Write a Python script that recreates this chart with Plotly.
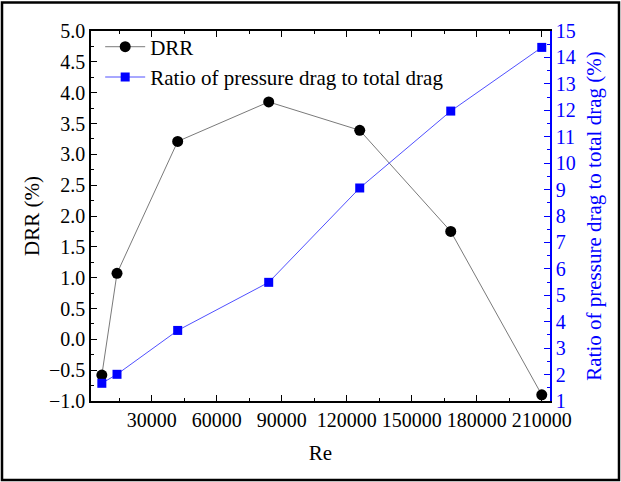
import plotly.graph_objects as go

re_vals = [7000, 14000, 42000, 84000, 126000, 168000, 210000]
drr = [-0.58, 1.07, 3.21, 3.85, 3.39, 1.75, -0.90]
ratio = [1.67, 2.01, 3.67, 5.49, 9.06, 11.97, 14.38]
x_ticks = [30000, 60000, 90000, 120000, 150000, 180000, 210000]

FONT = "Liberation Serif"
BLUE = "#0000ff"

fig = go.Figure()
fig.add_trace(go.Scatter(
    x=re_vals, y=drr, name="DRR", mode="lines+markers",
    line=dict(color="#7a7a7a", width=1),
    marker=dict(symbol="circle", size=11, color="black"),
))
fig.add_trace(go.Scatter(
    x=re_vals, y=ratio, name="Ratio of pressure drag to total drag", mode="lines+markers",
    yaxis="y2",
    line=dict(color="#5050ff", width=1),
    marker=dict(symbol="square", size=9, color=BLUE),
))

fig.update_layout(
    width=621, height=482,
    margin=dict(l=91, r=71, t=31, b=81),
    paper_bgcolor="white", plot_bgcolor="white",
    font=dict(family=FONT, size=20, color="black"),
    showlegend=True,
    legend=dict(x=0.02, y=1.012, xanchor="left", yanchor="top",
                bgcolor="rgba(0,0,0,0)", font=dict(family=FONT, size=21),
                tracegroupgap=0, itemwidth=40),
    xaxis=dict(
        range=[2000, 213800], tickvals=x_ticks, ticktext=[str(v) for v in x_ticks],
        ticks="inside", ticklen=6, tickwidth=1.2, tickcolor="black",
        showline=True, linecolor="black", linewidth=1.5, mirror="ticks",
        showgrid=False, zeroline=False,
        minor=dict(tickvals=[15000, 45000, 75000, 105000, 135000, 165000, 195000],
                   ticks="inside", ticklen=3, tickcolor="black", tickwidth=1.2),
        title=dict(text="Re", font=dict(family=FONT, size=21), standoff=16),
        tickfont=dict(family=FONT, size=20),
    ),
    yaxis=dict(
        range=[-1, 5], dtick=0.5, tick0=0, tickformat=".1f",
        ticks="inside", ticklen=6, tickwidth=1.2, tickcolor="black",
        showline=True, linecolor="black", linewidth=1.5,
        showgrid=False, zeroline=False,
        minor=dict(dtick=0.25, ticks="inside", ticklen=3, tickcolor="black", tickwidth=1.2),
        title=dict(text="DRR (%)", font=dict(family=FONT, size=21), standoff=4),
        tickfont=dict(family=FONT, size=20),
    ),
    yaxis2=dict(
        range=[1, 15], dtick=1, tick0=1, overlaying="y", side="right",
        ticks="inside", ticklen=6, tickwidth=1.2, tickcolor=BLUE,
        showline=True, linecolor=BLUE, linewidth=1.5,
        showgrid=False, zeroline=False,
        minor=dict(dtick=0.5, ticks="inside", ticklen=3, tickcolor=BLUE, tickwidth=1.2),
        title=dict(text="Ratio of pressure drag to total drag (%)",
                   font=dict(family=FONT, size=21, color=BLUE), standoff=12),
        tickfont=dict(family=FONT, size=20, color=BLUE),
    ),
    shapes=[dict(type="rect", xref="paper", yref="paper",
                 x0=(2 - 91) / 459, x1=(619 - 91) / 459,
                 y0=(401 - 480) / 370, y1=(401 - 2.5) / 370,
                 line=dict(color="black", width=2.5), fillcolor="rgba(0,0,0,0)")],
)

fig.write_html("out.html", config={"displayModeBar": False},
               post_script="document.body.style.margin='0';document.body.style.padding='0';")
